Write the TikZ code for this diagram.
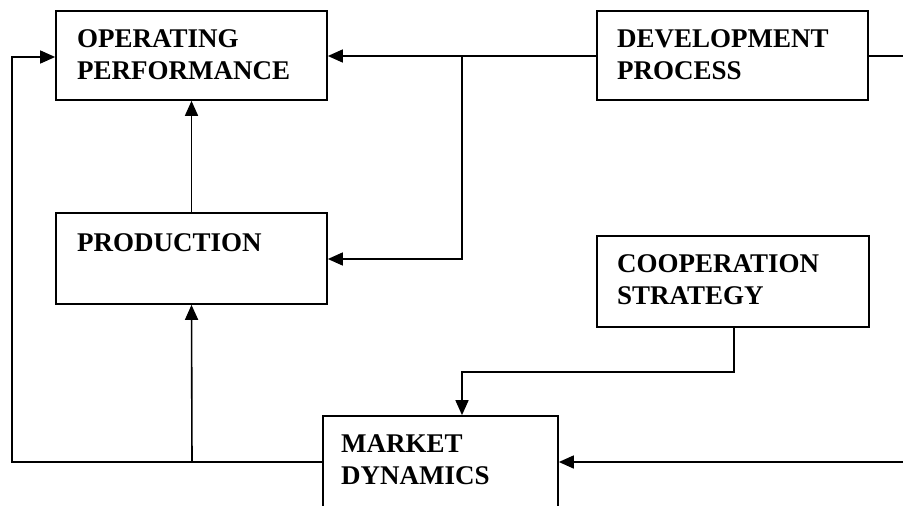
\documentclass[tikz,border=0pt]{standalone}
\usepackage{fontspec}
\setmainfont{Liberation Serif}
\usetikzlibrary{arrows.meta}
\begin{document}
\begin{tikzpicture}[x=1pt,y=-1pt,
  boxnode/.style={draw,line width=1.7pt,rectangle,inner sep=0pt,minimum width=271pt},
  lbl/.style={anchor=base west,inner sep=0pt,align=left,font=\fontsize{27}{32}\selectfont\bfseries},
  conn/.style={line width=1.6pt},
  arr/.style={conn,-{Triangle[length=15pt,width=13pt]}}]
\useasboundingbox (0,0) rectangle (903,506);
\clip (0,0) rectangle (903,506);
\fill[white] (0,0) rectangle (903,506);
% boxes
\node[boxnode,minimum height=89pt] (op) at (191.5,55.5) {};
\node[boxnode,minimum height=89pt] (dp) at (732.5,55.5) {};
\node[boxnode,minimum height=91pt] (pr) at (191.5,258.5) {};
\node[boxnode,minimum height=91pt,minimum width=272pt] (cs) at (733,281.5) {};
\node[boxnode,minimum height=120pt,minimum width=235pt] (md) at (440.5,476) {};
% labels (anchored at the baseline of the last line)
\node[lbl] (opt) at (77,79) {OPERATING\\PERFORMANCE};
\node[lbl] (dpt) at (617,79) {DEVELOPMENT\\PROCESS};
\node[lbl] (prt) at (77,251) {PRODUCTION};
\node[lbl] (cst) at (617,304) {COOPERATION\\STRATEGY};
\node[lbl] (mdt) at (341,484) {MARKET\\DYNAMICS};
% coordinates
\coordinate (dpR) at (903,56);
\coordinate (jA) at (462,56);
\coordinate (mdR) at (903,462);
\coordinate (jB) at (192,462);
% connectors
\draw[arr] (dp.west |- 0,56) -- (op.east |- 0,56);
\draw[conn] (dp.east |- 0,56) -- (dpR);
\draw[arr] (jA) |- (pr.east |- 0,259);
\draw[arr] (pr.north) -- (op.south);
\draw[arr] (cs.south -| 734,0) |- (462,372) -- (md.north -| 462,0);
\draw[arr] (mdR) -- (md.east |- 0,462);
\draw[arr] (md.west |- 0,462) -| (12,57) -- (op.west |- 0,57);
\draw[arr] (jB) -- (pr.south);
\end{tikzpicture}
\end{document}
